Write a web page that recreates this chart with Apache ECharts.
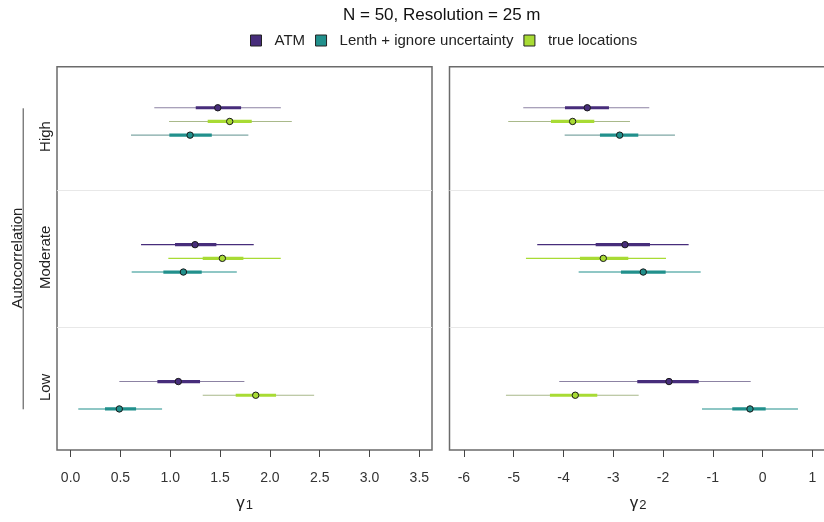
<!DOCTYPE html>
<html>
<head>
<meta charset="utf-8">
<script src="https://cdn.jsdelivr.net/npm/echarts@6/dist/echarts.min.js"></script>
<style>html,body{margin:0;padding:0;background:#fff;}#chart{width:824px;height:522px;}</style>
</head>
<body>
<div id="chart"></div>
<script>
// ---- data ----
const groups = ['Low', 'Moderate', 'High'];
const methods = ['ATM', 'Lenth + ignore uncertainty', 'true locations'];
// each row: [lo95, lo50, estimate, hi50, hi95] for Low, Moderate, High
const atmG1   = [[0.489, 0.871, 1.081, 1.299, 1.744], [0.707, 1.048, 1.249, 1.463, 1.838], [0.840, 1.256, 1.477, 1.711, 2.110]];
const lenthG1 = [[0.077, 0.345, 0.489, 0.657, 0.918], [0.613, 0.931, 1.132, 1.316, 1.668], [0.606, 0.991, 1.199, 1.417, 1.784]];
const trueG1  = [[1.326, 1.657, 1.858, 2.062, 2.444], [0.981, 1.326, 1.523, 1.734, 2.109], [0.988, 1.376, 1.597, 1.818, 2.220]];
const atmG2   = [[-4.085, -2.517, -1.880, -1.283, -0.238], [-4.527, -3.353, -2.764, -2.262, -1.485], [-4.808, -3.970, -3.522, -3.086, -2.276]];
const lenthG2 = [[-1.217, -0.608, -0.252, 0.063, 0.712], [-3.695, -2.845, -2.397, -1.947, -1.243], [-3.976, -3.267, -2.871, -2.497, -1.760]];
const trueG2  = [[-5.156, -4.272, -3.763, -3.321, -2.489], [-4.754, -3.669, -3.200, -2.698, -1.940], [-5.110, -4.252, -3.816, -3.381, -2.664]];
const xTicks1 = [0, 0.5, 1, 1.5, 2, 2.5, 3, 3.5];
const xTicks2 = [-6, -5, -4, -3, -2, -1, 0, 1];
const separators = [1.5, 2.5];

// ---- styles / layout ----
const colors = { 'ATM': '#472D7B', 'Lenth + ignore uncertainty': '#21908C', 'true locations': '#A8DB34' };
const mutedColors = { 'ATM': '#8C82A3', 'Lenth + ignore uncertainty': '#7FA7A5', 'true locations': '#A9B98A' };
const mutedThin = { 'ATM': [1, 0, 1], 'Lenth + ignore uncertainty': [0, 0, 1], 'true locations': [1, 0, 1] };
const rowOffset = { 'ATM': 0.1, 'Lenth + ignore uncertainty': -0.1, 'true locations': 0 };
const groupLabelPos = [1.058, 2.007, 2.89];
const FONT = "'Liberation Sans', Arial, Helvetica, sans-serif";

const panels = [
  { ATM: atmG1, 'Lenth + ignore uncertainty': lenthG1, 'true locations': trueG1 },
  { ATM: atmG2, 'Lenth + ignore uncertainty': lenthG2, 'true locations': trueG2 }
];

function renderInterval(params, api) {
  const y = api.value(0);
  const a = api.coord([api.value(1), y]);
  const b = api.coord([api.value(2), y]);
  const c = api.coord([api.value(3), y]);
  const d = api.coord([api.value(4), y]);
  const e = api.coord([api.value(5), y]);
  const muted = api.value(6) === 1;
  const name = params.seriesName;
  return {
    type: 'group',
    children: [
      { type: 'line', shape: { x1: a[0], y1: a[1], x2: e[0], y2: e[1] },
        style: { stroke: muted ? mutedColors[name] : colors[name], lineWidth: 1.1 } },
      { type: 'line', shape: { x1: b[0], y1: b[1], x2: d[0], y2: d[1] },
        style: { stroke: colors[name], lineWidth: 3.2 } },
      { type: 'circle', shape: { cx: c[0], cy: c[1], r: 3.2 },
        style: { fill: colors[name], stroke: '#1a1a1a', lineWidth: 1 } }
    ]
  };
}

const series = [];
panels.forEach(function (panel, pi) {
  methods.forEach(function (m, mi) {
    const data = panel[m].map(function (row, gi) {
      return [gi + 1 + rowOffset[m]].concat(row).concat([mutedThin[m][gi]]);
    });
    const s = {
      type: 'custom',
      name: m,
      xAxisIndex: pi,
      yAxisIndex: pi,
      renderItem: renderInterval,
      encode: { x: [1, 2, 3, 4, 5], y: 0 },
      itemStyle: { color: colors[m] },
      data: data,
      z: 3
    };
    if (mi === 0) {
      s.markLine = {
        silent: true, symbol: 'none', label: { show: false },
        lineStyle: { color: '#E8E8E8', width: 1, type: 'solid' },
        data: separators.map(function (v) { return { yAxis: v }; }),
        z: 1
      };
    }
    series.push(s);
  });
});

function xAxisCfg(pi, min, max, ticks, fmt, sub) {
  return {
    type: 'value', gridIndex: pi, min: min, max: max,
    axisLine: { show: false },
    axisTick: { show: true, length: 7, customValues: ticks, lineStyle: { color: '#444', width: 1 } },
    axisLabel: { customValues: ticks, formatter: fmt, margin: 21, fontSize: 14, color: '#333', fontFamily: FONT },
    splitLine: { show: false },
    name: '{g|γ}{s|' + sub + '}',
    nameLocation: 'middle', nameGap: 44,
    nameTextStyle: {
      fontFamily: FONT, color: '#222',
      rich: { g: { fontSize: 17, fontFamily: FONT, color: '#222' },
              s: { fontSize: 13, fontFamily: FONT, color: '#222', padding: [5, 0, 0, 1] } }
    }
  };
}

function yAxisCfg(pi) {
  return {
    type: 'value', gridIndex: pi, min: 0.6, max: 3.4,
    axisLine: { show: false }, axisTick: { show: false }, splitLine: { show: false },
    axisLabel: pi === 0 ? {
      customValues: groupLabelPos,
      formatter: function (v) {
        const i = groupLabelPos.indexOf(v);
        return i >= 0 ? groups[i] : '';
      },
      rotate: 90, margin: 4, fontSize: 15, color: '#222', fontFamily: FONT
    } : { show: false }
  };
}

const option = {
  backgroundColor: '#fff',
  animation: false,
  title: {
    text: 'N = 50, Resolution = 25 m',
    left: 343, top: 7, padding: 0,
    textStyle: { fontSize: 17, fontWeight: 'normal', color: '#111', fontFamily: FONT }
  },
  legend: {
    left: 250, top: 33, padding: 0, icon: 'rect', itemWidth: 11, itemHeight: 11, itemGap: 10,
    textStyle: { fontSize: 15, color: '#222', fontFamily: FONT, padding: [0, 0, 0, 8] },
    data: methods.map(function (m) {
      return { name: m, itemStyle: { color: colors[m], borderColor: '#222', borderWidth: 1 } };
    })
  },
  grid: [
    { left: 57, top: 66.7, width: 375, height: 383.3, show: true, borderColor: '#6b6b6b', borderWidth: 1.5,
      containLabel: false, outerBoundsMode: 'none' },
    { left: 449.5, top: 66.7, width: 377, height: 383.3, show: true, borderColor: '#6b6b6b', borderWidth: 1.5,
      containLabel: false, outerBoundsMode: 'none' }
  ],
  xAxis: [
    xAxisCfg(0, -0.1365, 3.627, xTicks1, function (v) { return v.toFixed(1); }, '1'),
    xAxisCfg(1, -6.29, 1.285, xTicks2, function (v) { return String(v); }, '2')
  ],
  yAxis: [yAxisCfg(0), yAxisCfg(1)],
  graphic: [
    { type: 'text', x: 18, y: 258, rotation: Math.PI / 2, silent: true,
      style: { text: 'Autocorrelation', fontSize: 15, fontFamily: FONT, fill: '#222',
               align: 'center', verticalAlign: 'middle', textAlign: 'center', textVerticalAlign: 'middle' } },
    { type: 'line', silent: true, shape: { x1: 23.2, y1: 108.3, x2: 23.2, y2: 409.3 },
      style: { stroke: '#444', lineWidth: 1 } }
  ],
  series: series
};

const chart = echarts.init(document.getElementById('chart'), null, { renderer: 'canvas' });
chart.setOption(option);
</script>
</body>
</html>
